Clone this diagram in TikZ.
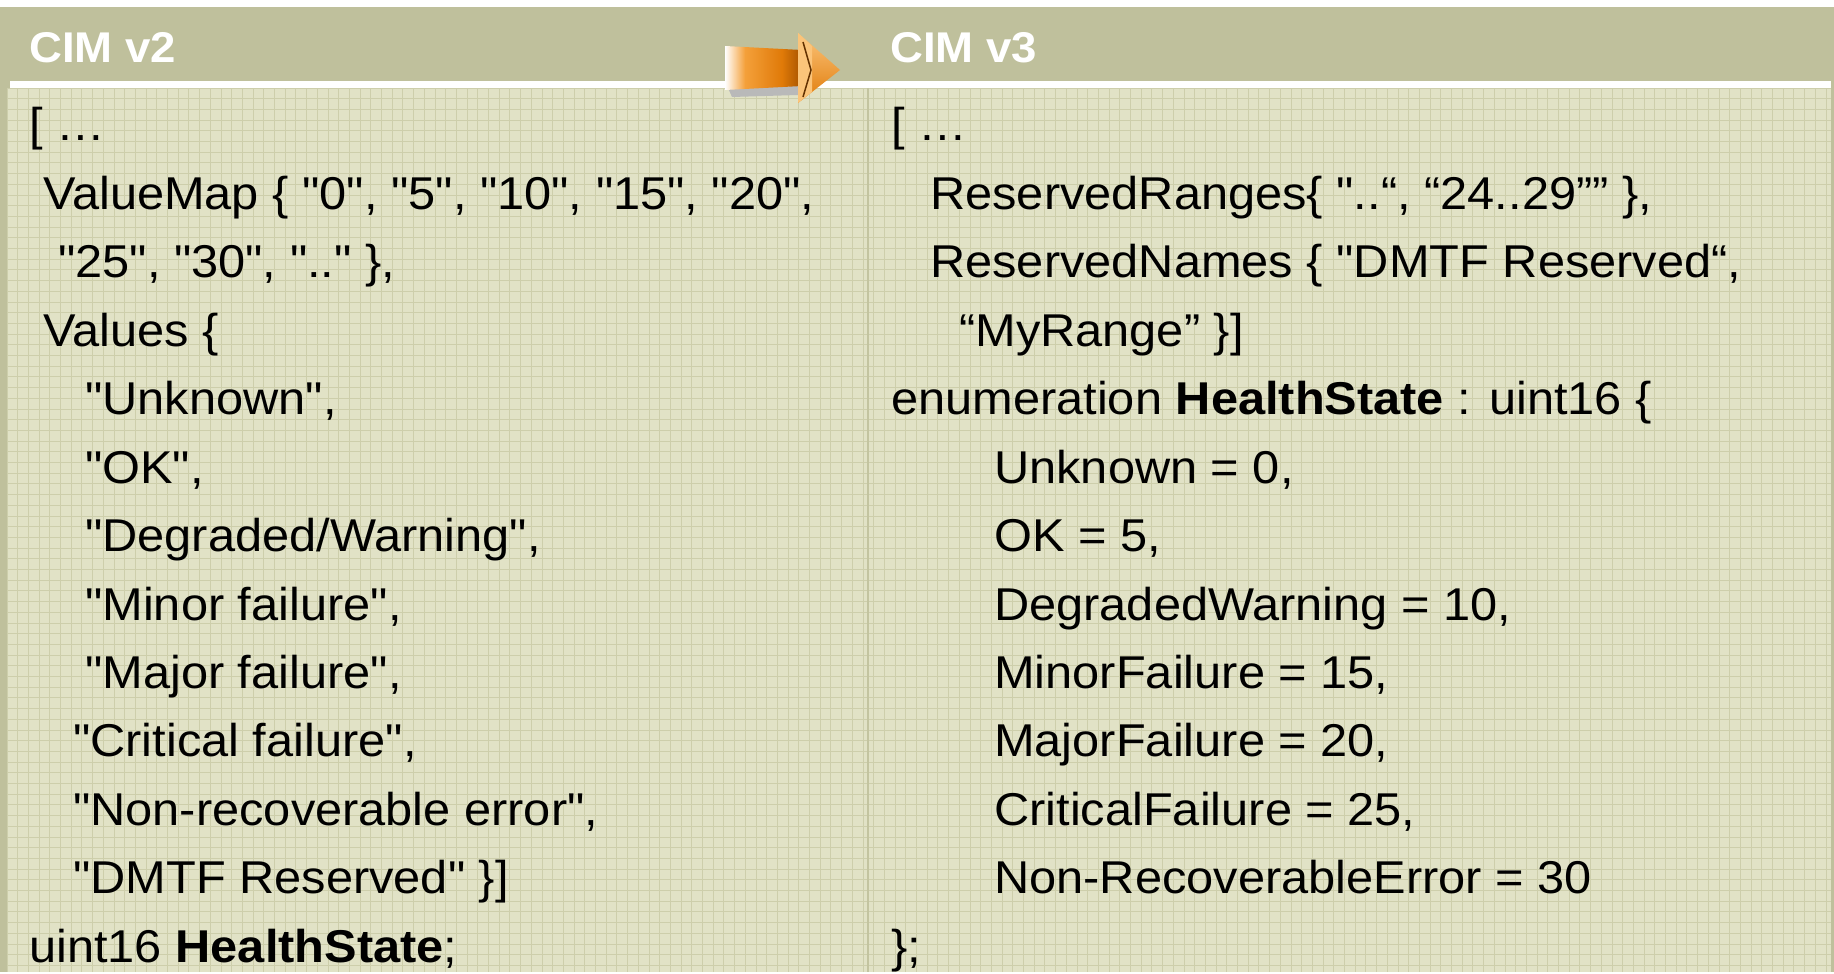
\documentclass[tikz,border=0pt]{standalone}
\usepackage{fontspec}
\setmainfont{Liberation Sans}[FakeStretch=1.06, Ligatures=TeXOff]
\definecolor{headcol}{HTML}{BFC09C}
\definecolor{bodycol}{HTML}{E1E2C6}
\definecolor{gridcol}{HTML}{CDCEAB}
\definecolor{divcol}{HTML}{C3C4A0}
\definecolor{arrowA}{HTML}{F4A03A}
\definecolor{arrowB}{HTML}{E07A08}
\definecolor{arrowdk}{HTML}{A55200}
\definecolor{arrowlt}{HTML}{FBC47A}
\pgfdeclarehorizontalshading{shaftshade}{100bp}{color(0bp)=(white); color(25bp)=(white); color(38bp)=(arrowA); color(62bp)=(arrowB); color(75bp)=(arrowdk); color(100bp)=(arrowdk)}
\begin{document}
\begin{tikzpicture}[x=1pt,y=-1pt,
  codeline/.style={anchor=base west, inner sep=0pt, font=\fontsize{46}{55}\selectfont, text=black},
  headtext/.style={anchor=base west, inner sep=0pt, font=\fontsize{43}{50}\selectfont\bfseries, text=white},
  gridline/.style={draw=gridcol, line width=0.9pt}]
% canvas
\fill[white] (0,0) rectangle (1834,972);
\fill[headcol] (0,7) rectangle (1834,972);
\fill[bodycol] (7,88) rectangle (1831,972);
\foreach \i in {0,...,170} {\draw[gridline] ({7+\i*10.7},88) -- ({7+\i*10.7},972);}
\foreach \j in {0,...,82} {\draw[gridline] (7,{88+\j*10.7}) -- (1831,{88+\j*10.7});}
\fill[white] (10,81) rectangle (1831,88);
\draw[divcol, line width=2.5pt] (868,88) -- (868,972);
% arrow
\fill[gray!55] (728,88) -- (798,86) -- (798,95) -- (732,97) -- cycle;
\shade[shading=shaftshade]
  (725,46) -- (802,50) -- (802,86) -- (725,90) -- cycle;
\shade[top color=arrowlt, bottom color=arrowB]
  (798,33) -- (840,70) -- (798,103) -- cycle;
\fill[arrowlt] (798,33) -- (812,46) -- (812,92) -- (798,103) -- cycle;
\draw[arrowdk!60!black, line width=1.5pt] (803,42) -- (811,70) -- (803,97);
% headers
\node[headtext] (h1) at (29,63) {CIM v2};
\node[headtext] (h2) at (890,63) {CIM v3};
% left column
\node[codeline] (l0) at (29,141) {[ …};
\node[codeline] (l1) at (43,209.4) {ValueMap \{ "0", "5", "10", "15", "20",};
\node[codeline] (l2) at (58,277.8) {"25", "30", ".." \},};
\node[codeline] (l3) at (43,346.3) {Values \{};
\node[codeline] (l4) at (85,414.7) {"Unknown",};
\node[codeline] (l5) at (85,483.1) {"OK",};
\node[codeline] (l6) at (85,551.5) {"Degraded/Warning",};
\node[codeline] (l7) at (85,620) {"Minor failure",};
\node[codeline] (l8) at (85,688.4) {"Major failure",};
\node[codeline] (l9) at (73,756.8) {"Critical failure",};
\node[codeline] (l10) at (73,825.2) {"Non-recoverable error",};
\node[codeline] (l11) at (73,893.6) {"DMTF Reserved" \}]};
\node[codeline] (l12) at (29,962) {uint16 \textbf{HealthState};};
% right column
\node[codeline] (r0) at (891,141) {[ …};
\node[codeline] (r1) at (930,209.4) {ReservedRanges\{ "..“, “24..29”” \},};
\node[codeline] (r2) at (930,277.8) {ReservedNames \{ "DMTF Reserved“,};
\node[codeline] (r3) at (959,346.3) {“MyRange” \}]};
\node[codeline] (r4) at (891,414.7) {enumeration \textbf{HealthState} : uint16 \{};
\node[codeline] (r5) at (994,483.1) {Unknown = 0,};
\node[codeline] (r6) at (994,551.5) {OK = 5,};
\node[codeline] (r7) at (994,620) {DegradedWarning = 10,};
\node[codeline] (r8) at (994,688.4) {MinorFailure = 15,};
\node[codeline] (r9) at (994,756.8) {MajorFailure = 20,};
\node[codeline] (r10) at (994,825.2) {CriticalFailure = 25,};
\node[codeline] (r11) at (994,893.6) {Non-RecoverableError = 30};
\node[codeline] (r12) at (891,962) {\};};
\end{tikzpicture}
\end{document}
